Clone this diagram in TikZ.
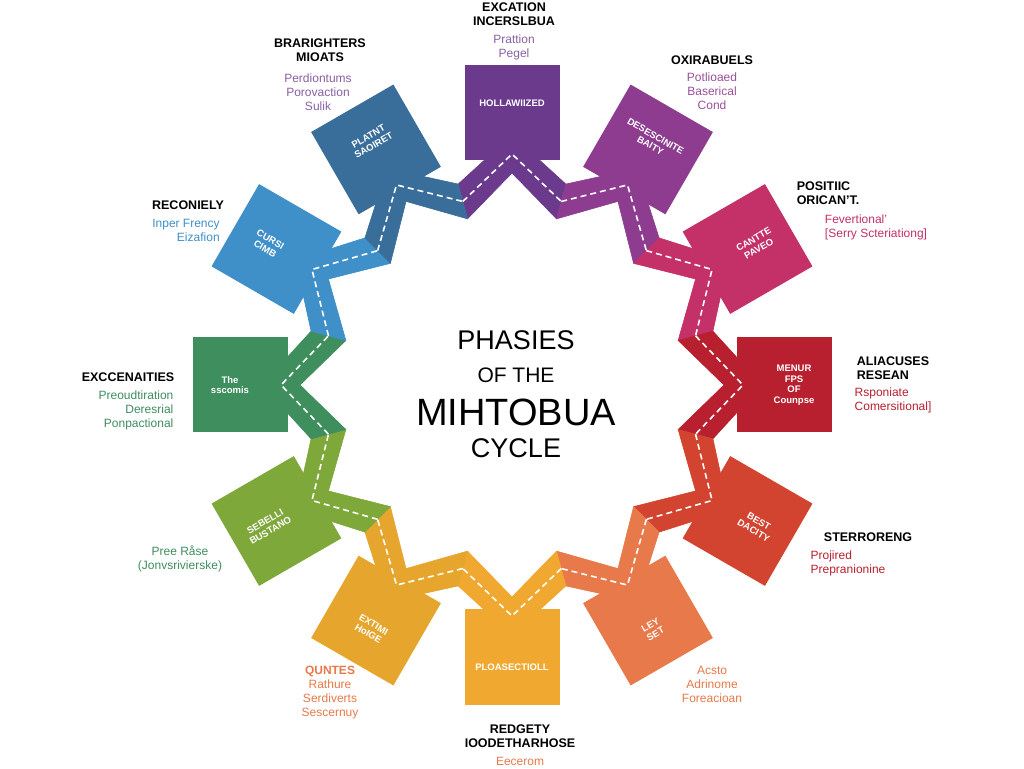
\documentclass[tikz,border=0pt]{standalone}
\usepackage{fontspec}
\setmainfont{Liberation Sans}
\usetikzlibrary{calc}
\definecolor{c1}{HTML}{6B3A8C}
\definecolor{c2}{HTML}{8E3C8F}
\definecolor{c3}{HTML}{C43068}
\definecolor{c4}{HTML}{B8202F}
\definecolor{c5}{HTML}{D2442F}
\definecolor{c6}{HTML}{E8794A}
\definecolor{c7}{HTML}{F0A830}
\definecolor{c8}{HTML}{E6A62E}
\definecolor{c9}{HTML}{7FA83A}
\definecolor{c10}{HTML}{3E8E5E}
\definecolor{c11}{HTML}{3F8FC8}
\definecolor{c12}{HTML}{3A6E9A}
\begin{document}
\begin{tikzpicture}[x=1pt,y=1pt,
  sq/.style={minimum size=95pt,inner sep=0pt},
  sqt/.style={text=white,font=\bfseries\fontsize{9.5}{10.5}\selectfont,align=center},
  hd/.style={font=\bfseries\fontsize{12.5}{14}\selectfont,align=center},
  sb/.style={font=\fontsize{12}{14}\selectfont,align=center}]
\useasboundingbox[fill=white] (0,0) rectangle (1024,768);
\coordinate (C) at (512,383);
\foreach \a/\c [count=\i] in {90/c1,60/c2,30/c3,0/c4,-30/c5,-60/c6,-90/c7,-120/c8,-150/c9,180/c10,150/c11,120/c12}{
  \pgfmathsetmacro\r{mod(\a-90+405,90)-45}
  \node[sq,fill=\c,rotate=\r] (s\i) at ($(C)+(\a:272)$) {};
}
\foreach \a/\c [count=\i] in {90/c1,60/c2,30/c3,0/c4,-30/c5,-60/c6,-90/c7,-120/c8,-150/c9,180/c10,150/c11,120/c12}{
  \fill[\c,draw=\c,line width=0.6pt,line join=round] ($(C)+(\a-15:208)$) -- ($(C)+(\a:250)$) -- ($(C)+(\a+15:208)$) -- ($(C)+(\a+15:172)$) -- ($(C)+(\a:212)$) -- ($(C)+(\a-15:172)$) -- cycle;
}
\foreach \a [count=\i] in {90,60,...,-240}{
  \draw[white,line width=1.6pt,dash pattern=on 6pt off 4pt] ($(C)+(\a+15:190)$) -- ($(C)+(\a:231)$) -- ($(C)+(\a-15:190)$);
}
\foreach \a/\t [count=\i] in {90/HOLLAWIIZED,60/{DESESCINITE\\BAITY},30/{CANTTE\\PAVEO},0/{MENUR\\FPS\\OF\\Counpse},-30/{BEST\\DACITY},-60/{LEY\\SET},-90/PLOASECTIOLL,-120/{EXTIMI\\HoIGE},-150/{SEBELLI\\BUSTANO},180/{The\\sscomis},150/{CURSI\\CIMB},120/{PLATNT\\SAOIRET}}{
  \pgfmathsetmacro\r{mod(\a-90+405,90)-45}
  \node[sqt,rotate=\r] (t\i) at ($(C)+(\a:282)$) {\t};
}
% centre
\node[font=\fontsize{27}{30}\selectfont] (p1) at (516,428) {PHASIES};
\node[font=\fontsize{21}{24}\selectfont] (p2) at (516,393) {OF THE};
\node[font=\fontsize{38}{42}\selectfont] (p3) at (516,356) {MIHTOBUA};
\node[font=\fontsize{27}{30}\selectfont] (p4) at (516,320) {CYCLE};
% outer labels
\node[hd] (h1) at (514,754) {EXCATION\\INCERSLBUA};
\node[sb,text=c1!80] (b1) at (514,721) {Prattion\\Pegel};
\node[hd] (h12) at (320,718) {BRARIGHTERS\\MIOATS};
\node[sb,text=c1!80] (b12) at (318,676) {Perdiontums\\Porovaction\\Sulik};
\node[hd] (h2) at (712,708) {OXIRABUELS};
\node[sb,text=c2!90] (b2) at (712,677) {Potlioaed\\Baserical\\Cond};
\node[hd] (h11) at (188,563) {RECONIELY};
\node[sb,text=c11,align=right] (b11) at (186,538) {Inper Frency\\Eizafion};
\node[hd,align=left] (h3) at (828,575) {POSITIIC\\ORICAN'T.};
\node[sb,text=c3,align=left] (b3) at (876,541) {Fevertional'\\{[}Serry Scteriationg{]}};
\node[hd] (h10) at (128,391) {EXCCENAITIES};
\node[sb,text=c10,align=right] (b10) at (136,358) {Preoudtiration\\Deresrial\\Ponpactional};
\node[hd,align=left] (h4) at (893,400) {ALIACUSES\\RESEAN};
\node[sb,text=c4,align=left] (b4) at (893,368) {Rsponiate\\Comersitional{]}};
\node[sb,text=c10] (b9) at (180,209) {Pree Råse\\(Jonvsrivierske)};
\node[hd] (h5) at (868,231) {STERRORENG};
\node[sb,text=c4,align=left] (b5) at (848,205) {Projired\\Prepranionine};
\node[sb,text=c6] (b8) at (330,75) {\textbf{QUNTES}\\Rathure\\Serdiverts\\Sescernuy};
\node[sb,text=c6] (b6) at (712,84) {Acsto\\Adrinome\\Foreacioan};
\node[hd] (h7) at (520,32) {REDGETY\\IOODETHARHOSE};
\node[sb,text=c6] (b7) at (520,7) {Eecerom};
\end{tikzpicture}
\end{document}
